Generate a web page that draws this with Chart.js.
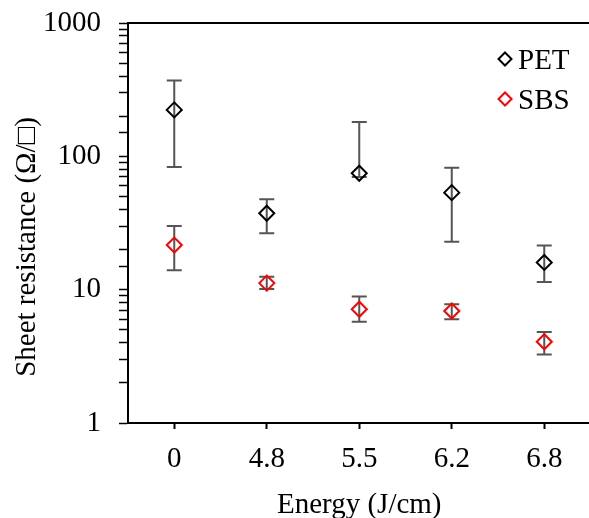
<!DOCTYPE html>
<html>
<head>
<meta charset="utf-8">
<script src="https://cdn.jsdelivr.net/npm/chart.js@4/dist/chart.umd.min.js"></script>
<style>
  html, body { margin: 0; padding: 0; background: #fff; overflow: hidden; }
  .wrap { width: 600px; height: 518px; }
</style>
</head>
<body>
<div class="wrap"><canvas class="js-graph"></canvas></div>
<script>
const energies = ['0', '4.8', '5.5', '6.2', '6.8']

const petValues = [223, 37.4, 74.7, 53.4, 16.0]
const petHigh = [370, 47.7, 181, 82, 21.4]
const petLow = [83, 26.5, 70, 22.9, 11.4]

const sbsValues = [21.6, 11.2, 7.13, 6.92, 4.07]
const sbsHigh = [30, 12.5, 8.87, 7.77, 4.82]
const sbsLow = [14, 10.1, 5.75, 6.0, 3.27]

const decadeTicks = [1, 10, 100, 1000]

const serif = '"Liberation Serif", "Times New Roman", serif'
const fontSize = 29

// vertical error bars with caps, drawn before the markers
const errorBars = {
  id: 'errorBars',
  beforeDatasetsDraw(chart) {
    const { ctx } = chart
    const x = chart.scales.x
    const y = chart.scales.y
    const ranges = [[petLow, petHigh], [sbsLow, sbsHigh]]
    ctx.save()
    ctx.strokeStyle = '#555'
    ctx.lineWidth = 2
    ranges.forEach(([low, high]) => {
      low.forEach((lo, i) => {
        const px = x.getPixelForValue(i)
        const top = y.getPixelForValue(high[i])
        const bottom = y.getPixelForValue(lo)
        ctx.beginPath()
        ctx.moveTo(px, top)
        ctx.lineTo(px, bottom)
        ctx.moveTo(px - 7.5, top)
        ctx.lineTo(px + 7.5, top)
        ctx.moveTo(px - 7.5, bottom)
        ctx.lineTo(px + 7.5, bottom)
        ctx.stroke()
      })
    })
    ctx.restore()
  },
}

// legend in the upper right and the rotated y-axis title
const annotations = {
  id: 'annotations',
  afterDraw(chart) {
    const { ctx } = chart
    ctx.save()
    ctx.font = fontSize + 'px ' + serif
    ctx.textBaseline = 'middle'
    chart.data.datasets.forEach((ds, i) => {
      const cy = 59 + i * 40
      const cx = 505
      const r = 6.5
      ctx.strokeStyle = ds.borderColor
      ctx.lineWidth = 2
      ctx.beginPath()
      ctx.moveTo(cx, cy - r)
      ctx.lineTo(cx + r, cy)
      ctx.lineTo(cx, cy + r)
      ctx.lineTo(cx - r, cy)
      ctx.closePath()
      ctx.stroke()
      ctx.fillStyle = '#000'
      ctx.fillText(ds.label, 518, cy + 2)
    })

    ctx.translate(26, 247)
    ctx.rotate(-Math.PI / 2)
    ctx.textAlign = 'center'
    ctx.fillStyle = '#000'
    ctx.fillText('Sheet resistance (Ω/□)', 0, 1)
    ctx.restore()
  },
}

const makeChart = function () {
  const ctx = document.querySelector('.js-graph')
  return new Chart(ctx, {
    type: 'line',
    data: {
      labels: energies,
      datasets: [
        {
          label: 'PET',
          data: petValues,
          showLine: false,
          borderColor: '#000',
          backgroundColor: 'rgba(0,0,0,0)',
          pointStyle: 'rectRot',
          pointRadius: 7.5,
          pointBorderWidth: 2,
        },
        {
          label: 'SBS',
          data: sbsValues,
          showLine: false,
          borderColor: '#ff0000',
          backgroundColor: 'rgba(0,0,0,0)',
          pointStyle: 'rectRot',
          pointRadius: 7.5,
          pointBorderWidth: 2,
        },
      ],
    },
    options: {
      responsive: true,
      maintainAspectRatio: false,
      animation: false,
      layout: { padding: { top: 23, right: 3, bottom: 0, left: 0 } },
      plugins: {
        legend: { display: false },
        tooltip: { enabled: false },
      },
      scales: {
        x: {
          type: 'category',
          offset: true,
          afterFit: (scale) => { scale.height = 95 },
          grid: {
            display: true,
            drawOnChartArea: false,
            drawTicks: true,
            tickLength: 6,
            tickColor: '#000',
            tickWidth: 2,
            offset: false,
          },
          border: { display: true, color: '#000', width: 2 },
          ticks: {
            color: '#000',
            font: { family: serif, size: fontSize },
            padding: 13,
            maxRotation: 0,
          },
          title: {
            display: true,
            text: 'Energy (J/cm)',
            color: '#000',
            font: { family: serif, size: fontSize },
            padding: { top: 0, bottom: -5 },
          },
        },
        top: {
          type: 'category',
          position: 'top',
          offset: true,
          afterFit: (scale) => { scale.height = 0 },
          grid: { display: false },
          ticks: { display: false },
          border: { display: true, color: '#000', width: 2 },
        },
        y: {
          type: 'logarithmic',
          min: 1,
          max: 1000,
          afterFit: (scale) => {
            scale.width = 128
            scale.paddingTop = 0
            scale.paddingBottom = 0
          },
          grid: {
            display: true,
            drawOnChartArea: false,
            drawTicks: true,
            tickLength: 9,
            tickColor: '#000',
            tickWidth: 1.5,
          },
          border: { display: true, color: '#000', width: 2 },
          ticks: {
            color: '#000',
            autoSkip: false,
            font: { family: serif, size: fontSize },
            padding: 18,
            callback: (value) => (decadeTicks.includes(value) ? String(value) : ''),
          },
        },
      },
    },
    plugins: [errorBars, annotations],
  })
}

document.addEventListener('DOMContentLoaded', function () {
  makeChart()
})
</script>
</body>
</html>
